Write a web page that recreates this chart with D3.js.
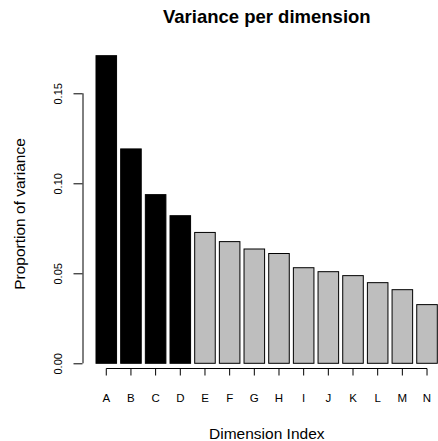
<!DOCTYPE html>
<html>
<head>
<meta charset="utf-8">
<script src="https://cdn.jsdelivr.net/npm/d3@7"></script>
<style>
  html, body { margin: 0; padding: 0; background: #fff; }
  svg { display: block; font-family: "Liberation Sans", Arial, Helvetica, sans-serif; }
</style>
</head>
<body>
<svg id="chart" width="438" height="441"></svg>
<script>
// Dimension labels and the share of variance each one explains
const dimensions = ["A", "B", "C", "D", "E", "F", "G", "H", "I", "J", "K", "L", "M", "N"];
const variance = [0.1709, 0.1191, 0.0937, 0.0820, 0.0727, 0.0676, 0.0635, 0.0610, 0.0531, 0.0509, 0.0487, 0.0448, 0.0409, 0.0326];
// The leading dimensions are highlighted
const highlighted = ["A", "B", "C", "D"];
const yTicks = [0.00, 0.05, 0.10, 0.15];

const svg = d3.select("#chart");

const x = d3.scaleBand()
  .domain(dimensions)
  .range([96, 437.3])
  .paddingInner(1 / 6)
  .paddingOuter(0);

const y = d3.scaleLinear()
  .domain([0, 0.15])
  .range([363.3, 93.3]);

// Bars
svg.append("g")
  .selectAll("rect")
  .data(dimensions)
  .join("rect")
  .attr("x", d => x(d))
  .attr("width", x.bandwidth())
  .attr("y", (d, i) => y(variance[i]))
  .attr("height", (d, i) => y(0) - y(variance[i]))
  .attr("fill", d => highlighted.includes(d) ? "#000000" : "#bebebe")
  .attr("stroke", "#000")
  .attr("stroke-width", 1);

// Left axis: values drawn along the axis, rotated
const yAxis = d3.axisLeft(y)
  .tickValues(yTicks)
  .tickFormat(d3.format(".2f"))
  .tickSizeOuter(0)
  .tickSizeInner(9)
  .tickPadding(0);

const gy = svg.append("g")
  .attr("transform", "translate(82.5,0)")
  .call(yAxis);
gy.select(".domain").attr("stroke", "#000").attr("d", `M0.5,${y(0)}V${y(0.15)}`);
gy.selectAll(".tick line").attr("stroke", "#000");
gy.selectAll(".tick text")
  .attr("x", null).attr("dy", null)
  .attr("text-anchor", "middle")
  .attr("transform", "translate(-20.8,0) rotate(-90)")
  .attr("font-size", "11px")
  .attr("fill", "#000")
  .attr("font-family", "Liberation Sans, Arial, sans-serif");

// Bottom axis with dimension names
const xAxis = d3.axisBottom(x)
  .tickSizeOuter(0)
  .tickSizeInner(7)
  .tickPadding(0);

const gx = svg.append("g")
  .attr("transform", "translate(0,368.5)")
  .call(xAxis);
gx.select(".domain").attr("stroke", "#000")
  .attr("d", `M${x("A") + x.bandwidth() / 2},0H${x("N") + x.bandwidth() / 2}`);
gx.selectAll(".tick line").attr("stroke", "#000");
gx.selectAll(".tick text")
  .attr("y", 33).attr("dy", null)
  .attr("font-size", "11.5px")
  .attr("fill", "#000")
  .attr("font-family", "Liberation Sans, Arial, sans-serif");

// Title and axis titles
svg.append("text")
  .attr("x", 266.8).attr("y", 23)
  .attr("text-anchor", "middle")
  .attr("font-size", "18.5px")
  .attr("font-weight", "bold")
  .text("Variance per dimension");

svg.append("text")
  .attr("x", 266.8).attr("y", 439)
  .attr("text-anchor", "middle")
  .attr("font-size", "15.5px")
  .text("Dimension Index");

svg.append("text")
  .attr("transform", "translate(25,214) rotate(-90)")
  .attr("text-anchor", "middle")
  .attr("font-size", "15.5px")
  .text("Proportion of variance");
</script>
</body>
</html>
